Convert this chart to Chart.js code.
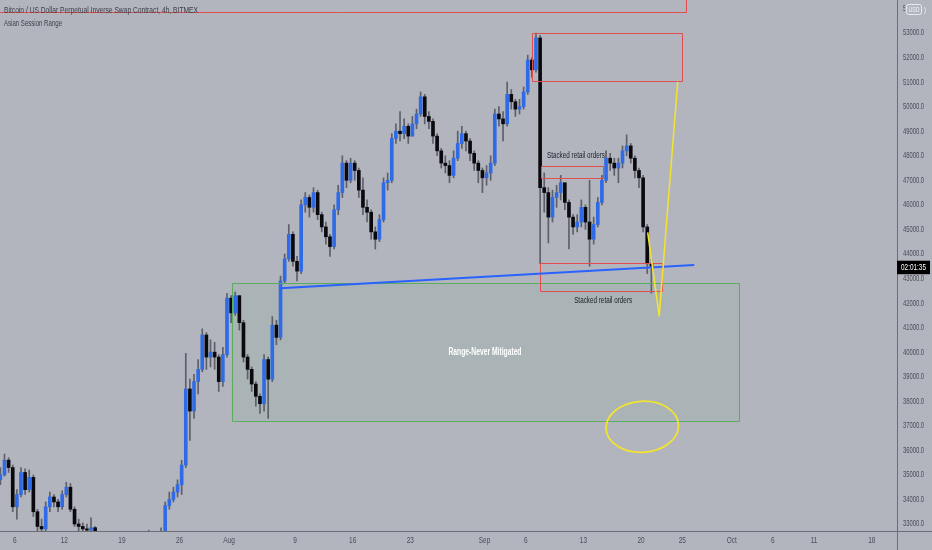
<!DOCTYPE html>
<html>
<head>
<meta charset="utf-8">
<script src="https://cdn.jsdelivr.net/npm/chart.js@4.4.1/dist/chart.umd.min.js"></script>
<style>
  html, body { margin: 0; padding: 0; background: #b2b5be; }
  #wrap { width: 932px; height: 550px; }
</style>
</head>
<body>
<div id="wrap"><canvas id="c" width="932" height="550"></canvas></div>
<script>
// ---------- DATA (12h candles) ----------
// time axis: days since 1 July 2021
const firstCandleDay = 3.0;
const candleStepDays = 0.5;
const firstOpen = 34800;
const closes = [
  35000,35600,35300,33700,34200,35100,34400,34900,33500,32900,
  32800,33700,34100,33900,33700,34200,34500,33600,33000,32900,
  32800,32750,32850,32600,32200,31900,31700,31800,31500,31600,
  31700,31400,30600,29900,30300,32000,32300,32100,32300,32500,
  33750,34000,34300,34600,35400,38500,37600,38800,39300,40700,
  39800,40000,39800,38800,39900,42200,41600,42300,41200,39800,
  39300,38700,38200,37900,39700,38900,41100,40600,42900,43800,
  44800,43700,43300,46000,46300,45900,46500,45600,45100,44700,
  44300,45800,46500,47700,47000,47700,47400,46600,45900,45700,
  44900,44600,45400,46900,47000,48700,49000,48900,49200,48800,
  49300,49700,50400,49600,49400,48800,48200,47700,47600,47200,
  47900,48500,48900,48600,48100,47700,47400,47100,47300,47700,
  49700,49500,49300,50500,50200,49900,50000,50600,51900,51500,
  52800,46700,46500,45500,46300,46500,46900,46100,45500,45100,
  45300,45900,45300,44600,45200,46100,47000,47900,47700,47500,
  47700,48200,48400,47900,47400,47100,45100,43600,43500
];
const highs = [
  35300,35850,35700,35400,34400,35300,35250,35200,35000,33600,
  33200,33900,34300,34200,34000,34350,34700,34650,33700,33200,
  33050,33000,33250,32900,32650,32300,32100,32100,31900,31900,
  32000,31800,31500,30700,30600,32200,32750,32500,32600,32840,
  33900,34300,34500,34800,35600,39950,38900,39100,39700,40950,
  40800,40500,40400,39900,40200,42400,42300,42450,42300,41300,
  39900,39400,38800,38300,39900,39800,41450,41300,43100,44000,
  45200,44900,43900,46200,46500,46400,46700,46600,45700,45300,
  44800,46000,46800,48000,47800,47900,47800,47500,47100,46200,
  45800,45100,45600,47100,47300,48900,49300,49800,49500,49300,
  49600,49900,50600,50500,49800,49500,48900,48300,48000,47800,
  48200,49000,49200,49000,48700,48200,47800,47500,47600,48000,
  49900,50000,49800,51000,50700,50300,50300,50800,52100,52000,
  53000,52900,47300,46700,46600,46800,47200,46900,46200,45600,
  45600,46200,46000,47000,45500,46300,47200,48200,48100,47900,
  47900,48400,48850,48500,48000,47500,47200,45200,43800
];
const lows = [
  34600,34950,35100,33500,33200,34100,34200,34300,33300,32500,
  32400,32700,33500,33700,33500,33600,34100,33500,32900,32700,
  32600,32500,32600,32300,31900,31600,31400,31300,31200,31300,
  31400,31100,30300,29500,29300,30200,31900,31700,31900,32100,
  32400,33600,33900,34100,34200,35300,36400,37300,38300,39200,
  39300,39400,39300,38400,38600,39800,41200,41500,40900,39600,
  38900,38400,37800,37500,37600,37300,38800,40300,40500,42800,
  43700,43500,42900,43200,45700,45500,45700,45400,44900,44400,
  43900,44200,45600,46300,46700,46900,47000,46300,45600,45300,
  44600,44200,44500,45300,46600,46900,48500,48600,48700,48500,
  48800,49100,49600,49300,49100,48500,48000,47500,47300,46900,
  47100,47800,48300,48200,47800,47400,46900,46500,46800,47000,
  47600,49200,48600,49200,49900,49600,49700,49900,50500,51200,
  51400,43600,45700,44450,45300,45900,46200,45800,44200,44800,
  44900,45100,45000,43500,44400,45100,46000,46900,47400,47200,
  46900,47500,48000,47700,47100,46700,44900,43200,42400
];
const lastPrice = 43460;
const countdownLabel = '02:01:35';

// axis ticks
const xTickDays   = [5, 11, 18, 25, 31, 39, 46, 53, 62, 67, 74, 81, 86, 92, 97, 102, 109];
const xTickLabels = ['6','12','19','26','Aug','9','16','23','Sep','6','13','20','25','Oct','6','11','18'];
const yTickValues = [33000,34000,35000,36000,37000,38000,39000,40000,41000,42000,43000,
                     44000,45000,46000,47000,48000,49000,50000,51000,52000,53000,54000];

// texts
const titleText = 'Bitcoin / US Dollar Perpetual Inverse Swap Contract, 4h, BITMEX';
const indicatorText = 'Asian Session Range';
const rangeText = 'Range-Never Mitigated';
const stackedText = 'Stacked retail orders';

// drawings (in day / price coordinates)
const redBoxes = [
  { d0: -5,    d1: 86.46, p0: 53850, p1: 58000 },
  { d0: 67.8,  d1: 86.0,  p0: 51040, p1: 52990 },
  { d0: 68.82, d1: 76.35, p0: 47082, p1: 47595 },
  { d0: 68.74, d1: 83.5,  p0: 42491, p1: 43619 }
];
const greenBox = { d0: 31.32, d1: 92.89, p0: 37208, p1: 42804 };
const blueLine = [[37.18, 42601], [87.46, 43550]];
const yellowPath = [[81.81, 44882], [83.2, 41472], [85.45, 51016]];
const yellowLoop = { d: 81.15, p: 36960, rDays: 4.4, rPrice: 1040 };
const textMarks = [
  { text: stackedText, d: 73.1, p: 47990 },
  { text: stackedText, d: 76.4, p: 42096 }
];
const rangeMark = { d: 62.06, p: 40015 };

// ---------- build candle table ----------
const opens = closes.map((c, i) => i === 0 ? firstOpen : closes[i - 1]);
const centers = closes.map((c, i) => firstCandleDay + i * candleStepDays + candleStepDays / 2);
const wickData = centers.map((x, i) => ({ x, y: [lows[i], highs[i]] }));
const bodyData = centers.map((x, i) => ({ x, y: [Math.min(opens[i], closes[i]), Math.max(opens[i], closes[i])] }));
const bodyColors = closes.map((c, i) => c >= opens[i] ? '#2f6be6' : '#0a0a0e');

const BG = '#b2b5be';
const AXIS_TEXT = '#4a4d57';
const AXIS_LINE = '#6b6e78';
const RED = 'rgb(226,78,78)';

function fitText(ctx, str, x, y, px, weight, color, targetW, align) {
  ctx.save();
  ctx.font = weight + ' ' + px + "px 'Liberation Sans', Arial, sans-serif";
  const w = ctx.measureText(str).width;
  const sx = targetW / w;
  ctx.translate(x, y);
  ctx.scale(sx, 1);
  ctx.textBaseline = 'middle';
  ctx.textAlign = align;
  ctx.fillStyle = color;
  ctx.fillText(str, 0, 0);
  ctx.restore();
}

function crispRect(ctx, x0, y0, x1, y1) {
  const l = Math.round(Math.min(x0, x1)) + 0.5, r = Math.round(Math.max(x0, x1)) + 0.5;
  const t = Math.round(Math.min(y0, y1)) + 0.5, b = Math.round(Math.max(y0, y1)) + 0.5;
  ctx.beginPath();
  ctx.moveTo(l, t); ctx.lineTo(r, t); ctx.lineTo(r, b); ctx.lineTo(l, b); ctx.closePath();
  ctx.stroke();
}

const bgPlugin = {
  id: 'bg',
  beforeDraw(chart) {
    const { ctx, width, height } = chart;
    ctx.save();
    ctx.fillStyle = BG;
    ctx.fillRect(0, 0, width, height);
    ctx.restore();
  }
};

const drawingsPlugin = {
  id: 'drawings',
  beforeDatasetsDraw(chart) {
    const { ctx, chartArea: a, scales: { x, y } } = chart;
    ctx.save();
    ctx.beginPath(); ctx.rect(a.left, a.top, a.right - a.left, a.bottom - a.top); ctx.clip();
    const gx0 = x.getPixelForValue(greenBox.d0), gx1 = x.getPixelForValue(greenBox.d1);
    const gy0 = y.getPixelForValue(greenBox.p1), gy1 = y.getPixelForValue(greenBox.p0);
    ctx.fillStyle = 'rgba(76,175,80,0.07)';
    ctx.fillRect(gx0, gy0, gx1 - gx0, gy1 - gy0);
    ctx.restore();
  },
  afterDatasetsDraw(chart) {
    const { ctx, chartArea: a, scales: { x, y } } = chart;
    const X = v => x.getPixelForValue(v), Y = v => y.getPixelForValue(v);
    ctx.save();
    ctx.beginPath(); ctx.rect(a.left, a.top, a.right - a.left, a.bottom - a.top); ctx.clip();

    // green range box
    ctx.strokeStyle = 'rgb(92,172,96)';
    ctx.lineWidth = 1;
    crispRect(ctx, X(greenBox.d0), Y(greenBox.p1), X(greenBox.d1), Y(greenBox.p0));

    // red boxes
    ctx.strokeStyle = RED;
    ctx.lineWidth = 1;
    redBoxes.forEach(b => crispRect(ctx, X(b.d0), Y(b.p1), X(b.d1), Y(b.p0)));

    // blue trend line
    ctx.strokeStyle = '#2962ff';
    ctx.lineWidth = 2;
    ctx.beginPath();
    ctx.moveTo(X(blueLine[0][0]), Y(blueLine[0][1]));
    ctx.lineTo(X(blueLine[1][0]), Y(blueLine[1][1]));
    ctx.stroke();

    // yellow projection
    ctx.strokeStyle = '#f2e231';
    ctx.lineWidth = 1.6;
    ctx.lineJoin = 'round';
    ctx.beginPath();
    yellowPath.forEach((pt, i) => {
      const px = X(pt[0]), py = Y(pt[1]);
      if (i === 0) ctx.moveTo(px, py); else ctx.lineTo(px, py);
    });
    ctx.stroke();

    // yellow loop
    const cx = X(yellowLoop.d), cy = Y(yellowLoop.p);
    const rx = X(yellowLoop.d + yellowLoop.rDays) - cx;
    const ry = Y(yellowLoop.p) - Y(yellowLoop.p + yellowLoop.rPrice);
    ctx.lineWidth = 1.8;
    ctx.beginPath();
    ctx.ellipse(cx, cy, rx, ry, -0.06, 0, Math.PI * 2);
    ctx.stroke();

    // texts on chart
    textMarks.forEach(t => fitText(ctx, t.text, X(t.d), Y(t.p), 9, 'normal', '#1c1f28', 58, 'center'));
    fitText(ctx, rangeText, X(rangeMark.d), Y(rangeMark.p), 10, 'bold', '#ffffff', 73, 'center');
    ctx.restore();
  },
  afterDraw(chart) {
    const { ctx, chartArea: a, scales: { x, y }, width, height } = chart;
    ctx.save();
    // axis line extensions
    ctx.strokeStyle = AXIS_LINE;
    ctx.lineWidth = 1;
    ctx.beginPath();
    ctx.moveTo(a.right, a.bottom + 0.5); ctx.lineTo(width, a.bottom + 0.5);
    ctx.moveTo(a.right + 0.5, a.bottom); ctx.lineTo(a.right + 0.5, height);
    ctx.stroke();

    // y tick labels
    y.ticks.forEach(t => {
      const py = y.getPixelForValue(t.value);
      fitText(ctx, t.value.toFixed(1), a.right + 6, py, 9, 'normal', AXIS_TEXT, 21, 'left');
    });
    // x tick labels
    x.ticks.forEach(t => {
      const px = x.getPixelForValue(t.value);
      const lab = xTickLabels[xTickDays.indexOf(t.value)];
      ctx.save();
      ctx.font = "9px 'Liberation Sans', Arial, sans-serif";
      ctx.translate(px, a.bottom + 9.5);
      ctx.scale(0.72, 1);
      ctx.textAlign = 'center'; ctx.textBaseline = 'middle';
      ctx.fillStyle = AXIS_TEXT;
      ctx.fillText(lab, 0, 0);
      ctx.restore();
    });

    // USD badge
    ctx.fillStyle = BG;
    ctx.fillRect(905, 2, 27, 14);
    ctx.strokeStyle = 'rgba(245,245,250,0.8)';
    ctx.lineWidth = 1;
    ctx.beginPath();
    if (ctx.roundRect) ctx.roundRect(906.5, 4.5, 15, 10, 2); else ctx.rect(906.5, 4.5, 15, 10);
    ctx.stroke();
    fitText(ctx, 'USD', 914, 9.8, 8, 'normal', '#f4f4f8', 11, 'center');
    fitText(ctx, ')', 925, 9.5, 8, 'normal', '#f4f4f8', 2, 'center');

    // last price countdown box
    const ly = y.getPixelForValue(lastPrice);
    ctx.fillStyle = '#000000';
    ctx.fillRect(a.right, ly - 6.5, 33, 13.5);
    fitText(ctx, countdownLabel, a.right + 16.5, ly + 0.3, 9, 'normal', '#ffffff', 25, 'center');

    // header
    fitText(ctx, titleText, 4, 11, 9, 'normal', '#3d4049', 194, 'left');
    fitText(ctx, indicatorText, 4, 23.5, 9, 'normal', '#3d4049', 58, 'left');
    ctx.restore();
  }
};

new Chart(document.getElementById('c'), {
  type: 'bar',
  data: {
    datasets: [
      {
        label: 'wicks',
        data: wickData,
        backgroundColor: 'rgba(72,74,84,0.8)',
        barThickness: 1,
        grouped: false,
        order: 2
      },
      {
        label: 'bodies',
        data: bodyData,
        backgroundColor: bodyColors,
        barThickness: 3,
        minBarLength: 1,
        grouped: false,
        order: 1
      }
    ]
  },
  options: {
    responsive: false,
    maintainAspectRatio: false,
    animation: false,
    layout: { padding: 0 },
    plugins: { legend: { display: false }, tooltip: { enabled: false } },
    scales: {
      x: {
        type: 'linear',
        min: 3.204,
        max: 112.06,
        offset: false,
        grid: { display: false, drawTicks: false },
        border: { display: true, color: AXIS_LINE },
        ticks: { display: false },
        afterBuildTicks(s) { s.ticks = xTickDays.map(v => ({ value: v })); },
        afterFit(s) { s.height = 19; }
      },
      y: {
        type: 'linear',
        position: 'right',
        min: 32715,
        max: 54344,
        grid: { display: false, drawTicks: false },
        border: { display: true, color: AXIS_LINE },
        ticks: { display: false },
        afterBuildTicks(s) { s.ticks = yTickValues.map(v => ({ value: v })); },
        afterFit(s) { s.width = 35; }
      }
    }
  },
  plugins: [bgPlugin, drawingsPlugin]
});
</script>
</body>
</html>
